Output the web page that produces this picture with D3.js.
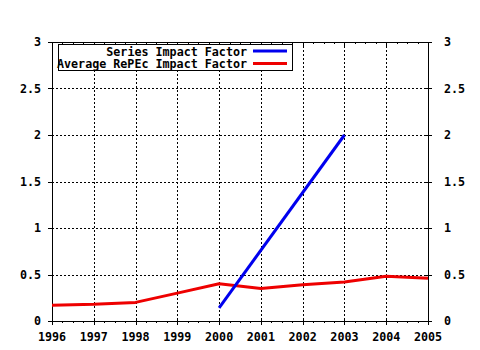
<!DOCTYPE html>
<html><head><meta charset="utf-8">
<script src="https://cdn.jsdelivr.net/npm/d3@7"></script>
<style>body{margin:0;background:#fff}svg{display:block}</style>
</head><body><svg id="c" width="480" height="350"></svg>
<script>
const years = [1996,1997,1998,1999,2000,2001,2002,2003,2004,2005];
const seriesYears = [2000,2003];
const seriesIF = [0.14,2.0];
const avgYears = [1996,1997,1998,1999,2000,2001,2002,2003,2004,2005];
const avgIF = [0.17,0.18,0.20,0.30,0.40,0.35,0.39,0.42,0.48,0.46];
const yTicks = [0,0.5,1,1.5,2,2.5,3];
const yTickLabels = ["0","0.5","1","1.5","2","2.5","3"];
const legendLabels = ["Series Impact Factor","Average RePEc Impact Factor"];
const colors = ["#0000ee","#ee0000"];

const svg = d3.select("#c");
const L=52,R=428,T=42,B=321;
const x = d3.scaleLinear().domain([1996,2005]).range([L,R]);
const y = d3.scaleLinear().domain([0,3]).range([B,T]);
const font = "'DejaVu Sans Mono', monospace";

// grid
const g = svg.append("g").attr("stroke","#000").attr("stroke-width",1).attr("stroke-dasharray","2,2").attr("shape-rendering","crispEdges");
years.slice(1,-1).forEach(v=>g.append("line").attr("x1",Math.round(x(v))+0.5).attr("x2",Math.round(x(v))+0.5).attr("y1",T).attr("y2",B));
yTicks.slice(1,-1).forEach(v=>g.append("line").attr("y1",Math.round(y(v))+0.5).attr("y2",Math.round(y(v))+0.5).attr("x1",L).attr("x2",R));

// ticks
const tk = svg.append("g").attr("stroke","#000").attr("stroke-width",1).attr("shape-rendering","crispEdges");
const minor = d3.range(1996,2005.001,0.25);
minor.forEach(v=>{
  const major = Math.abs(v-Math.round(v))<1e-6;
  const px = Math.round(x(v))+0.5;
  tk.append("line").attr("x1",px).attr("x2",px).attr("y1",B-(major?2:0)).attr("y2",B+(major?4:2));
  tk.append("line").attr("x1",px).attr("x2",px).attr("y1",T).attr("y2",T+(major?4:2));
});
yTicks.forEach(v=>{
  const py = Math.round(y(v))+0.5;
  tk.append("line").attr("x1",L-4).attr("x2",L+2).attr("y1",py).attr("y2",py);
  tk.append("line").attr("x1",R-2).attr("x2",R+4).attr("y1",py).attr("y2",py);
});

// frame
svg.append("rect").attr("x",L+0.5).attr("y",T+0.5).attr("width",R-L).attr("height",B-T)
  .attr("fill","none").attr("stroke","#000").attr("shape-rendering","crispEdges");

// labels
const lab = svg.append("g").attr("font-family",font).attr("font-weight","bold").attr("font-size","11.7px").attr("fill","#000");
years.forEach(v=>lab.append("text").attr("x",x(v)).attr("y",341).attr("text-anchor","middle").text(v));
yTicks.forEach((v,i)=>{
  lab.append("text").attr("x",41).attr("y",y(v)+4).attr("text-anchor","end").text(yTickLabels[i]);
  lab.append("text").attr("x",444).attr("y",y(v)+4).attr("text-anchor","start").text(yTickLabels[i]);
});

// data lines
const line = d3.line().x(d=>x(d[0])).y(d=>y(d[1]));
svg.append("path").datum(avgYears.map((d,i)=>[d,avgIF[i]])).attr("d",line)
  .attr("fill","none").attr("stroke",colors[1]).attr("stroke-width",3).attr("stroke-linejoin","round");
svg.append("path").datum(seriesYears.map((d,i)=>[d,seriesIF[i]])).attr("d",line)
  .attr("fill","none").attr("stroke",colors[0]).attr("stroke-width",3);

// legend
const lg = svg.append("g");
lg.append("rect").attr("x",58.5).attr("y",44.5).attr("width",234).attr("height",26).attr("fill","#fff").attr("stroke","#000").attr("shape-rendering","crispEdges");
legendLabels.forEach((t,i)=>{
  const yy = 51 + i*12.5;
  lg.append("text").attr("x",247).attr("y",yy+4.5).attr("text-anchor","end").attr("font-family",font).attr("font-weight","bold").attr("font-size","11.7px").text(t);
  lg.append("line").attr("x1",253).attr("x2",287).attr("y1",yy).attr("y2",yy).attr("stroke",colors[i]).attr("stroke-width",3);
});
</script></body></html>
